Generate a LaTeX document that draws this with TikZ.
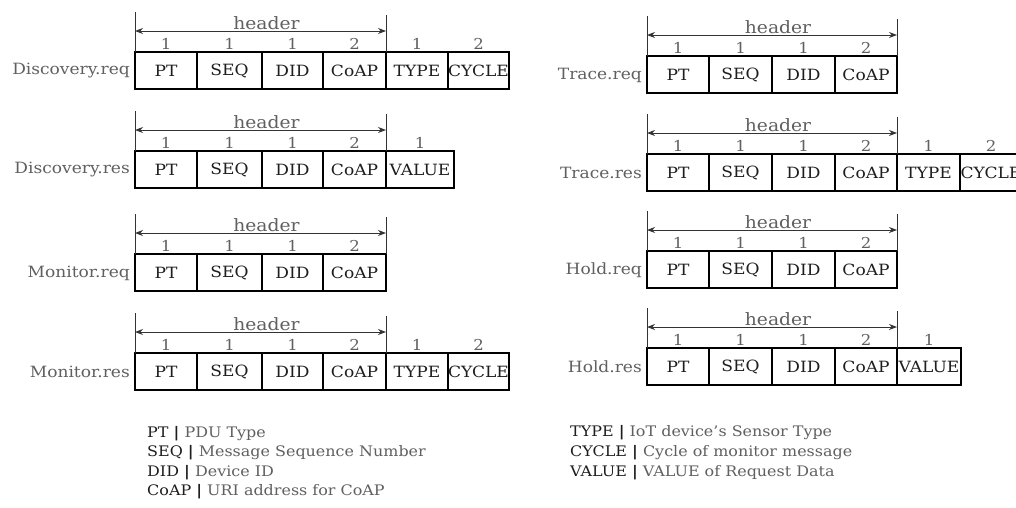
\documentclass[tikz,border=0pt]{standalone}
\usepackage{fontspec}
\setmainfont{DejaVu Serif}[FakeStretch=1.1]
\usetikzlibrary{arrows.meta}
\definecolor{lbl}{HTML}{606060}
\definecolor{ink}{HTML}{1E1E1E}
\tikzset{
  cell/.style={draw=black, line width=2.5pt, inner sep=0pt, outer sep=0pt,
    minimum height=37pt, anchor=north west, text=ink,
    font=\fontsize{15.5}{17}\selectfont},
  rowlabel/.style={anchor=east, inner sep=0pt, text=lbl,
    font=\fontsize{15.5}{17}\selectfont},
  num/.style={anchor=base, inner sep=0pt, text=lbl,
    font=\fontsize{15}{17}\selectfont},
  hdr/.style={anchor=base, inner sep=0pt, text=lbl,
    font=\fontsize{17}{19}\selectfont},
  guide/.style={draw=black!80, line width=1pt},
  hdrarrow/.style={guide, {Stealth[length=8pt,width=6pt]}-{Stealth[length=8pt,width=6pt]}},
  legend/.style={anchor=west, inner sep=0pt, text=lbl,
    font=\fontsize{14.5}{16}\selectfont},
}
% #1 id, #2 label, #3 top y, #4 left x, #5 header end x, #6 cells label/size/right-x
\newcommand\pdurow[6]{%
  \foreach \lab/\sz/\xb [count=\i, remember=\xb as \xa (initially #4)] in {#6} {
    \node[cell, minimum width={(\xb-\xa)*1pt}] (#1c\i) at (\xa,#3) {\lab};
    \node[num] (#1n\i) at ({(\xa+\xb)/2},{#3-3}) {\sz};
  }
  \node[rowlabel] (#1l) at ({#4-5},{#3+19}) {#2};
  \coordinate (#1ta) at (#4,{#3-40});
  \coordinate (#1tb) at (#5,{#3-37});
  \draw[guide] (#1ta) -- (#1c1.north west);
  \draw[guide] (#1tb) -- (#1c4.north east);
  \coordinate (#1al) at (#4,{#3-21});
  \coordinate (#1ar) at (#5,{#3-21});
  \draw[hdrarrow] (#1al) -- (#1ar);
  \node[hdr] (#1h) at ({(#4+#5)/2+6},{#3-23}) {header};
}
\begin{document}
\begin{tikzpicture}[x=1pt,y=-1pt]
\clip (0,0) rectangle (1016,507);
\fill[white] (0,0) rectangle (1016,507);
% left column
\pdurow{a}{Discovery.req}{52}{135}{386}{PT/1/197,SEQ/1/262,DID/1/323,CoAP/2/386,TYPE/1/448,CYCLE/2/509}
\pdurow{b}{Discovery.res}{151}{135}{386}{PT/1/197,SEQ/1/262,DID/1/323,CoAP/2/386,VALUE/1/454}
\pdurow{c}{Monitor.req}{254}{135}{386}{PT/1/197,SEQ/1/262,DID/1/323,CoAP/2/386}
\pdurow{d}{Monitor.res}{353}{135}{386}{PT/1/197,SEQ/1/262,DID/1/323,CoAP/2/386,TYPE/1/448,CYCLE/2/509}
% right column
\pdurow{e}{Trace.req}{56}{647}{897}{PT/1/709,SEQ/1/772,DID/1/835,CoAP/2/897}
\pdurow{f}{Trace.res}{154}{647}{897}{PT/1/709,SEQ/1/772,DID/1/835,CoAP/2/897,TYPE/1/960,CYCLE/2/1022}
\pdurow{g}{Hold.req}{251}{647}{897}{PT/1/709,SEQ/1/772,DID/1/835,CoAP/2/897}
\pdurow{h}{Hold.res}{348}{647}{897}{PT/1/709,SEQ/1/772,DID/1/835,CoAP/2/897,VALUE/1/961}
% legends
\node[legend] (k1) at (147,434) {\textcolor{ink}{PT \textbf{|}} PDU Type};
\node[legend] (k2) at (147,453) {\textcolor{ink}{SEQ \textbf{|}} Message Sequence Number};
\node[legend] (k3) at (147,473) {\textcolor{ink}{DID \textbf{|}} Device ID};
\node[legend] (k4) at (147,492) {\textcolor{ink}{CoAP \textbf{|}} URI address for CoAP};
\node[legend] (k5) at (570,433) {\textcolor{ink}{TYPE \textbf{|}} IoT device's Sensor Type};
\node[legend] (k6) at (570,453) {\textcolor{ink}{CYCLE \textbf{|}} Cycle of monitor message};
\node[legend] (k7) at (570,473) {\textcolor{ink}{VALUE \textbf{|}} VALUE of Request Data};
\end{tikzpicture}
\end{document}
